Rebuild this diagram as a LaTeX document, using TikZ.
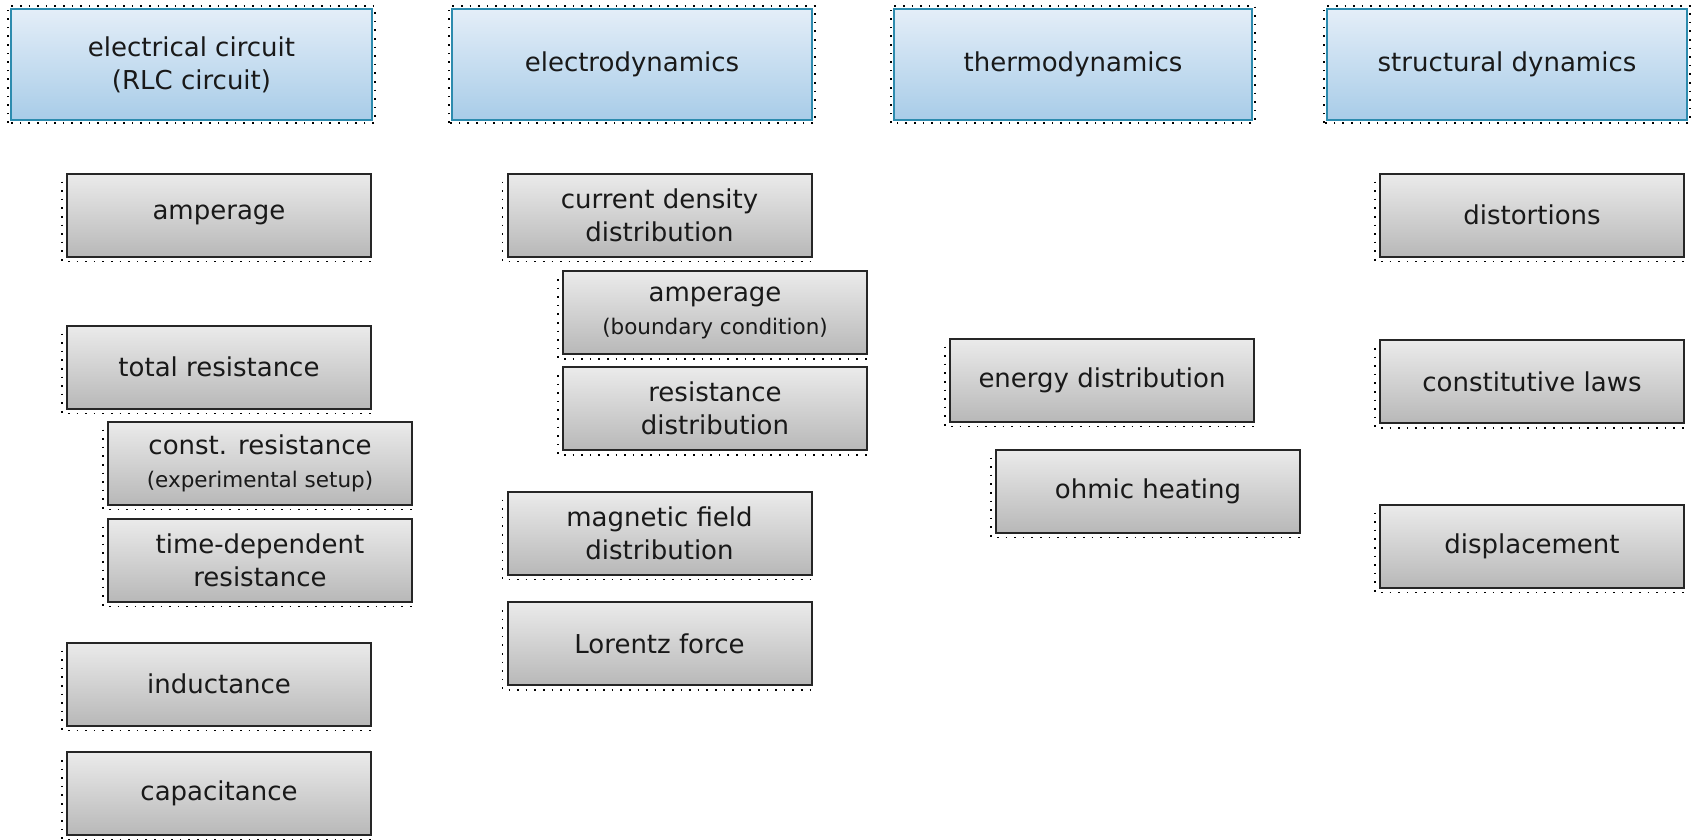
\documentclass[tikz,border=0pt]{standalone}
\usepackage{fontspec}
\setmainfont{DejaVu Sans}
\definecolor{domaintop}{HTML}{E4EEF8}
\definecolor{domainbottom}{HTML}{A8CCE8}
\definecolor{domainedge}{HTML}{2C8BAE}
\definecolor{quantitytop}{HTML}{EBEBEB}
\definecolor{quantitybottom}{HTML}{B8B8B8}
\begin{document}
\begin{tikzpicture}[x=1pt,y=-1pt,
  box/.style={rectangle, inner sep=0pt, outer sep=0pt, align=center,
    font=\fontsize{26}{33}\selectfont, text=black!90},
  domainbox/.style={box, draw=domainedge, line width=1.6pt,
    top color=domaintop, bottom color=domainbottom,
    minimum height=111pt},
  quantity/.style={box, draw=black!85, line width=2pt,
    top color=quantitytop, bottom color=quantitybottom,
    minimum width=304pt, minimum height=83pt},
  note/.style={font=\fontsize{21.5}{28}\selectfont},
  dotline/.style={draw=black, line width=1.6pt, dash pattern=on 1.6pt off 7pt}]
\useasboundingbox (0,0) rectangle (1691,839);

% physical domains
\node[domainbox, minimum width=361pt] (ec) at (191.5,64.5) {electrical circuit\\(RLC circuit)};
\node[domainbox, minimum width=360pt] (ed) at (632,64.5) {electrodynamics};
\node[domainbox, minimum width=358pt] (td) at (1073,64.5) {thermodynamics};
\node[domainbox, minimum width=360pt] (sd) at (1507,64.5) {structural dynamics};

% electrical circuit quantities
\node[quantity] (amp) at (219,215) {amperage};
\node[quantity] (tot) at (219,367) {total resistance};
\node[quantity] (cst) at (260,463) {const. resistance\\{\fontsize{21.5}{28}\selectfont(experimental setup)}};
\node[quantity] (tdr) at (260,560) {time-dependent\\resistance};
\node[quantity] (ind) at (219,684) {inductance};
\node[quantity] (cap) at (219,793.5) {capacitance};

% electrodynamics quantities
\node[quantity] (cdd) at (659.5,215) {current density\\distribution};
\node[quantity] (abc) at (715,312.5) {amperage\\{\fontsize{21.5}{28}\selectfont(boundary condition)}};
\node[quantity] (rsd) at (715,408.5) {resistance\\distribution};
\node[quantity] (mfd) at (659.5,533) {magnetic field\\distribution};
\node[quantity] (lor) at (659.5,643.5) {Lorentz force};

% thermodynamics quantities
\node[quantity] (end) at (1102,380) {energy distribution};
\node[quantity] (ohm) at (1148,491) {ohmic heating};

% structural dynamics quantities
\node[quantity] (dst) at (1532,215) {distortions};
\node[quantity] (cnl) at (1532,381.5) {constitutive laws};
\node[quantity] (dsp) at (1532,546) {displacement};

% dotted drop outlines
\foreach \n in {ec,ed,td,sd}
  \draw[dotline] ([shift={(-3pt,-3pt)}]\n.south west) rectangle ([shift={(3pt,3pt)}]\n.north east);
\foreach \n in {amp,tot,cst,tdr,ind,cap,cdd,abc,rsd,mfd,lor,end,ohm,dst,cnl,dsp}
  \draw[dotline] ([shift={(-5pt,-8pt)}]\n.north west) |- ([shift={(0pt,-5pt)}]\n.south east);
\end{tikzpicture}
\end{document}
